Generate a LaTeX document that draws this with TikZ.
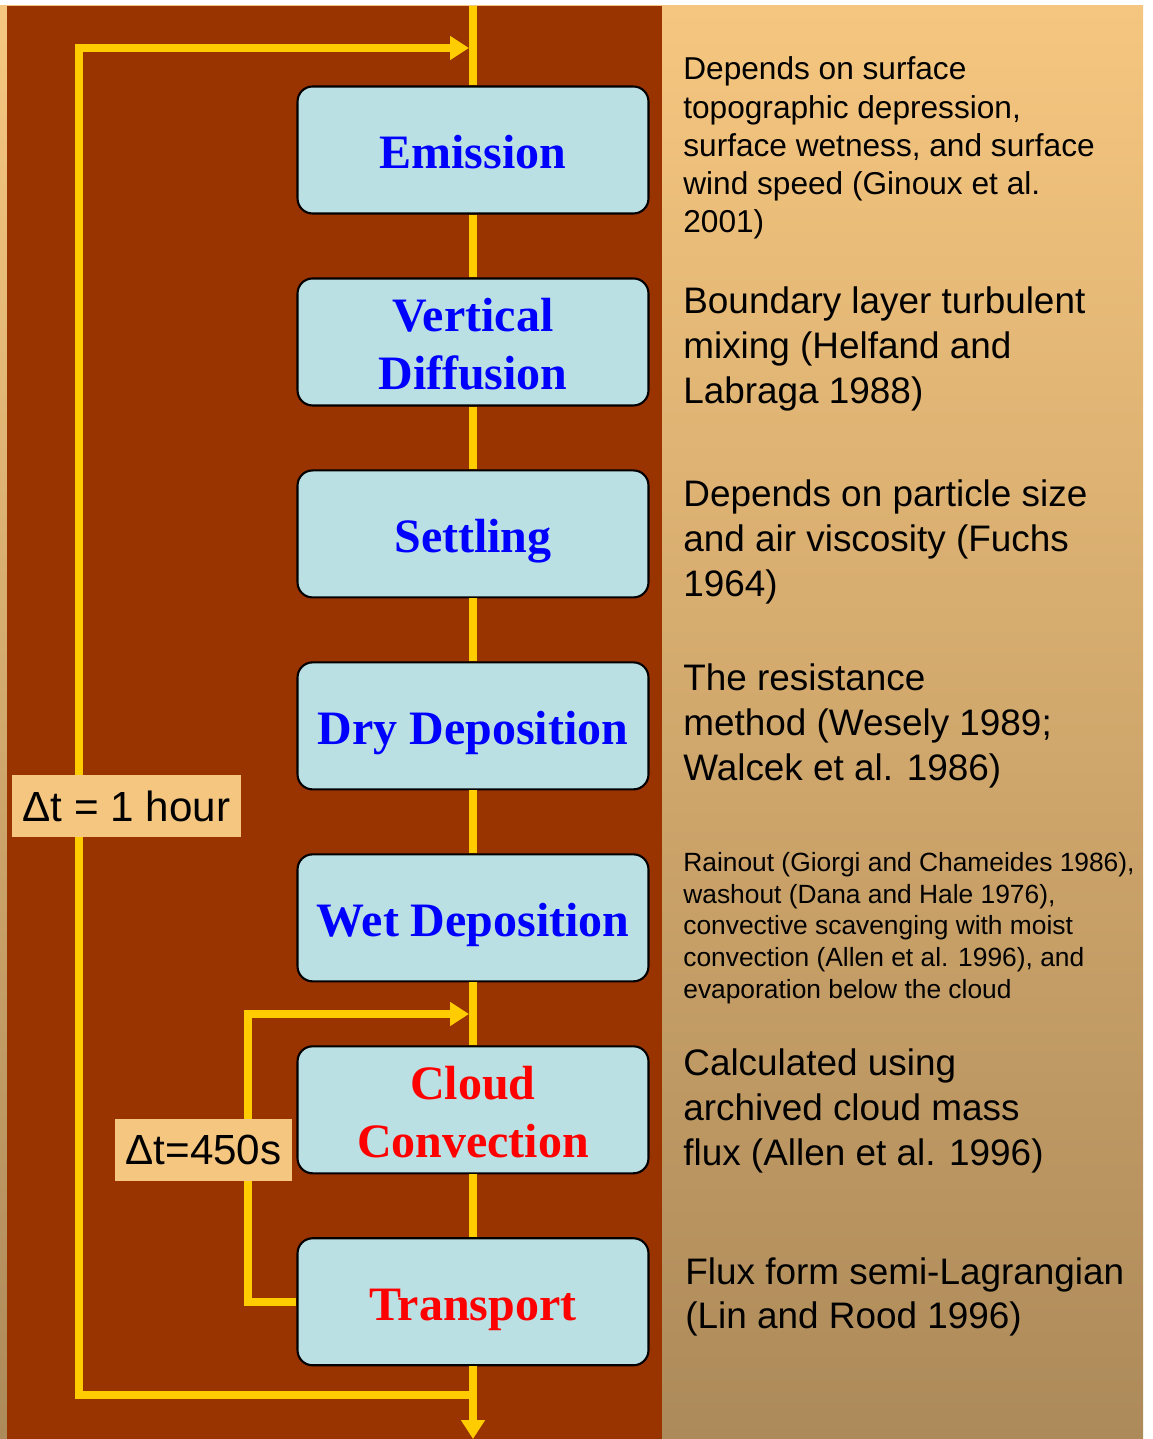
\documentclass[tikz,border=0pt]{standalone}
\usepackage{fontspec}
\setmainfont{Liberation Serif}
\newfontfamily\arial{Liberation Sans}
\usetikzlibrary{arrows.meta,positioning,calc}

\definecolor{slidebrown}{HTML}{993300}
\definecolor{flowyellow}{HTML}{FFCC00}
\definecolor{boxcyan}{HTML}{BBE0E3}
\definecolor{tantop}{HTML}{F5C67F}
\definecolor{tanbot}{HTML}{AD8A5A}
\definecolor{titleblue}{HTML}{0000FF}
\definecolor{titlered}{HTML}{FF0000}

% same line box for every title, descenders or not
\newcommand\titlestrut{\rule[-5.8pt]{0pt}{33pt}}

\tikzset{
  process/.style={draw=black,line width=1.2pt,rounded corners=0.3cm,fill=boxcyan,
    minimum width=7.02cm,minimum height=2.54cm,inner sep=2pt,align=center,
    font=\fontsize{27.3}{33}\selectfont\bfseries,
    execute at begin node=\titlestrut,execute at end node=\titlestrut},
  flow/.style={draw=flowyellow,line width=0.16cm,line join=miter},
  flowarrow/.style={flow,-{Triangle[length=0.38cm,width=0.46cm]}},
  stepnote/.style={font=\arial\fontsize{24}{28}\selectfont,fill=tantop,inner sep=0pt,
    minimum height=1.24cm,text=black},
  cite/.style={anchor=west,align=left,inner sep=0pt,font=\arial\fontsize{21}{25.5}\selectfont},
}

\begin{document}
\begin{tikzpicture}[x=0.02cm,y=-0.02cm,node distance=3.84cm]
  % background panels
  \fill[white] (0,0) rectangle (1152,1439);
  \shade[top color=tantop,bottom color=tanbot] (0,6) rectangle (1143,1439);
  \fill[slidebrown] (7,6) rectangle (662,1439);
  \useasboundingbox (0,0) rectangle (1152,1439);

  % process chain
  \node (emis) [process,text=titleblue] at (473,150) {Emission};
  \node (vdiff) [process,text=titleblue,below of=emis] {\titlestrut Vertical\\Diffusion};
  \node (settl) [process,text=titleblue,below of=vdiff] {Settling};
  \node (drydep) [process,text=titleblue,below of=settl] {Dry Deposition};
  \node (wetdep) [process,text=titleblue,below of=drydep] {Wet Deposition};
  \node (cloud) [process,text=titlered,below of=wetdep] {\titlestrut Cloud\\Convection};
  \node (trans) [process,text=titlered,below of=cloud] {Transport};

  \coordinate (top) at (473,6);
  \coordinate (bot) at (473,1439);
  \draw[flow] (top) -- (emis.north);
  \draw[flow] (emis) -- (vdiff);
  \draw[flow] (vdiff) -- (settl);
  \draw[flow] (settl) -- (drydep);
  \draw[flow] (drydep) -- (wetdep);
  \draw[flow] (wetdep) -- (cloud);
  \draw[flow] (cloud) -- (trans);
  \draw[flowarrow] (trans.south) -- (bot);

  % outer loop, 1 hour
  \coordinate (hourjoin) at (473,1395);
  \coordinate (hourbl) at (79,1395);
  \coordinate (hourtl) at (79,48);
  \coordinate (hourend) at (469,48);
  \draw[flowarrow] (hourjoin) -- (hourbl) -- (hourtl) -- (hourend);

  % inner loop, 450 s
  \coordinate (convtl) at (248,1014);
  \coordinate (convend) at (469,1014);
  \draw[flowarrow] (trans.west) -- (trans.west -| convtl) -- (convtl) -- (convend);

  \node (hour) [stepnote,minimum width=4.58cm] at (126.5,806) {Δt = 1 hour};
  \node (halfhr) [stepnote,minimum width=3.54cm] at (203.5,1150) {Δt=450s};

  % references
  \node (emisref) [cite,font=\arial\fontsize{18}{21.7}\selectfont] at (683,148)
    {Depends on surface\\topographic depression,\\surface wetness, and surface\\wind speed (Ginoux et al.\\2001)};
  \node (vdiffref) [cite] at (683,349)
    {Boundary layer turbulent\\mixing (Helfand and\\Labraga 1988)};
  \node (settlref) [cite] at (683,542)
    {Depends on particle size\\and air viscosity (Fuchs\\1964)};
  \node (dryref) [cite] at (683,726)
    {The resistance\\method (Wesely 1989;\\Walcek et al. 1986)};
  \node (wetref) [cite,font=\arial\fontsize{15}{18.1}\selectfont] at (683,928)
    {Rainout (Giorgi and Chameides 1986),\\washout (Dana and Hale 1976),\\convective scavenging with moist\\convection (Allen et al. 1996), and\\evaporation below the cloud};
  \node (cloudref) [cite] at (683,1111)
    {Calculated using\\archived cloud mass\\flux (Allen et al. 1996)};
  \node (transref) [cite] at (685,1297)
    {Flux form semi-Lagrangian\\(Lin and Rood 1996)};
\end{tikzpicture}
\end{document}
